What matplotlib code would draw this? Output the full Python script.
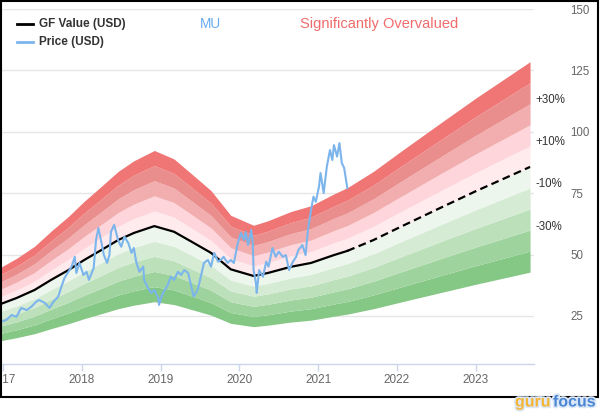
import numpy as np
import matplotlib.pyplot as plt
import matplotlib.transforms as mtransforms
import matplotlib.patheffects as pe
from matplotlib.patches import Rectangle
from matplotlib.lines import Line2D

plt.rcParams['font.family'] = ['Liberation Sans', 'DejaVu Sans']

# GF Value (USD) by decimal year
gf_years = [2016.98, 2017.17, 2017.40, 2017.61, 2017.83, 2018.03, 2018.25, 2018.46, 2018.66,
            2018.92, 2019.17, 2019.39, 2019.64, 2019.89, 2020.18, 2020.36, 2020.65, 2020.91,
            2021.20, 2021.37, 2021.70, 2022.04, 2022.55, 2023.00, 2023.69]
gf_vals = [30.0, 32.3, 35.6, 39.7, 43.7, 47.8, 51.9, 55.9, 58.8,
           61.6, 59.3, 55.3, 50.7, 44.0, 41.3, 42.5, 45.0, 46.6,
           49.8, 51.5, 55.9, 61.2, 69.0, 75.8, 85.7]
last_price_year = 2021.37

# MU price (USD)
price_years = [2016.98, 2017.04, 2017.11, 2017.17, 2017.23, 2017.30, 2017.36, 2017.42, 2017.46,
               2017.53, 2017.59, 2017.64, 2017.70, 2017.74, 2017.78, 2017.83, 2017.87, 2017.91,
               2017.93, 2017.97, 2018.02, 2018.06, 2018.09, 2018.15, 2018.18, 2018.21, 2018.25,
               2018.28, 2018.32, 2018.35, 2018.37, 2018.41, 2018.46, 2018.50, 2018.54, 2018.59,
               2018.63, 2018.66, 2018.69, 2018.73, 2018.78, 2018.79, 2018.84, 2018.88, 2018.92,
               2018.97, 2018.98, 2019.01, 2019.04, 2019.09, 2019.13, 2019.17, 2019.22, 2019.26,
               2019.30, 2019.35, 2019.39, 2019.42, 2019.47, 2019.51, 2019.55, 2019.60, 2019.64,
               2019.68, 2019.73, 2019.77, 2019.80, 2019.85, 2019.89, 2019.93, 2019.98, 2020.02,
               2020.06, 2020.08, 2020.11, 2020.15, 2020.17, 2020.18, 2020.21, 2020.22, 2020.25,
               2020.30, 2020.34, 2020.37, 2020.42, 2020.46, 2020.50, 2020.55, 2020.59, 2020.63,
               2020.68, 2020.72, 2020.75, 2020.80, 2020.84, 2020.87, 2020.91, 2020.94, 2020.97,
               2021.01, 2021.03, 2021.07, 2021.11, 2021.15, 2021.18, 2021.20, 2021.24, 2021.27,
               2021.30, 2021.33, 2021.37]
price_vals = [22.7, 23.4, 25.4, 24.7, 28.3, 27.4, 28.8, 30.8, 31.5,
              30.3, 28.3, 30.8, 32.9, 36.9, 40.5, 43.0, 45.1, 49.1,
              42.5, 46.6, 41.7, 43.0, 39.7, 44.5, 55.9, 60.8, 54.7,
              49.8, 46.6, 49.8, 59.3, 62.1, 55.9, 53.2, 57.3, 54.7,
              50.7, 52.7, 47.1, 43.0, 45.1, 39.7, 36.4, 34.4, 35.6,
              32.3, 29.5, 32.9, 34.9, 37.6, 41.0, 39.7, 43.0, 41.7,
              43.7, 42.5, 36.9, 32.9, 35.6, 41.0, 46.6, 47.8, 45.1,
              50.7, 47.1, 48.0, 49.1, 46.6, 47.8, 46.6, 54.7, 58.8,
              55.9, 59.3, 53.9, 60.0, 54.7, 43.7, 38.4, 34.4, 43.7,
              41.0, 47.1, 45.1, 52.7, 49.1, 51.2, 49.1, 49.8, 43.7,
              47.1, 49.1, 51.9, 53.9, 49.8, 60.0, 68.2, 73.6, 71.5,
              77.6, 83.2, 75.1, 85.8, 92.6, 88.5, 94.6, 89.9, 95.4,
              87.3, 85.3, 77.1]

# valuation bands as multiples of GF Value
band_edges = [0.5, 0.6, 0.7, 0.8, 0.9, 1.0, 1.1, 1.2, 1.3, 1.4, 1.5]
band_colors = ['#85c785', '#9ed39d', '#bbe0ba', '#d5ebd4', '#edf6ed',
               '#ffeaed', '#fdd5da', '#f2aeae', '#e98d8d', '#f07676']
band_labels = ['+30%', '+10%', '-10%', '-30%']
band_label_ratios = [1.3, 1.1, 0.9, 0.7]

year_ticks = [2017, 2018, 2019, 2020, 2021, 2022, 2023]
price_ticks = [25, 50, 75, 100, 125, 150]

W, H = 600, 420
fig = plt.figure(figsize=(6, 4.2), dpi=100)
ax = fig.add_axes([1.5 / W, 1 - 364 / H, 532.5 / W, 355 / H])

gy = np.array(gf_years)
gv = np.array(gf_vals)
for i in range(len(band_colors)):
    ax.fill_between(gy, gv * band_edges[i], gv * band_edges[i + 1],
                    color=band_colors[i], lw=0, zorder=1)

solid = gy <= last_price_year + 1e-9
dashed = gy >= last_price_year - 1e-9
ax.plot(gy[solid], gv[solid], color='black', lw=1.6, zorder=3)
ax.plot(gy[dashed], gv[dashed], color='black', lw=1.6, ls=(0, (3.5, 2)), zorder=3)
ax.plot(price_years, price_vals, color='#7cb5ec', lw=1.5, zorder=4)

# band labels at the right end
trans = mtransforms.blended_transform_factory(ax.transAxes, ax.transData)
for lbl, r in zip(band_labels, band_label_ratios):
    ax.annotate(lbl, xy=(1.0, gv[-1] * r), xycoords=trans, xytext=(1, 2.5),
                textcoords='offset points', va='center', ha='left',
                fontsize=8.3, color='#333333', annotation_clip=False)

ax.set_xlim(2016.98, 2023.74)
ax.set_ylim(5.45, 150)
ax.set_xticks(year_ticks)
ax.set_yticks(price_ticks)
ax.yaxis.tick_right()
ax.tick_params(axis='y', length=0, pad=26, labelsize=8.3, labelcolor='#666666')
ax.tick_params(axis='x', length=5, width=1, color='#ccd6eb', pad=2,
               labelsize=8.5, labelcolor='#666666')
ax.yaxis.grid(True, color='#e6e6e6', lw=1)
ax.set_axisbelow(True)
for s in ['left', 'right', 'top']:
    ax.spines[s].set_visible(False)
ax.spines['bottom'].set_color('#ccd6eb')
ax.spines['bottom'].set_linewidth(1)

# legend and titles
fig.add_artist(Line2D([17 / W, 33 / W], [1 - 24 / H] * 2, color='black', lw=2))
fig.add_artist(Line2D([17 / W, 33 / W], [1 - 42 / H] * 2, color='#7cb5ec', lw=2))
fig.text(39 / W, 1 - 24 / H, 'GF Value (USD)', fontsize=8.5, fontweight='bold',
         color='#333333', va='center')
fig.text(39 / W, 1 - 42 / H, 'Price (USD)', fontsize=8.5, fontweight='bold',
         color='#333333', va='center')
fig.text(200 / W, 1 - 24 / H, 'MU', fontsize=9.8, color='#66aaee', va='center')
fig.text(300 / W, 1 - 24 / H, 'Significantly Overvalued', fontsize=10.5,
         color='#f06b6b', va='center')

# outer frame and watermark
fig.patches.append(Rectangle((1 / W, 1 - 397 / H), 597 / W, 396 / H,
                             transform=fig.transFigure, fill=False,
                             ec='black', lw=1.5, zorder=1))
stroke = [pe.withStroke(linewidth=2.5, foreground='#dce8f7')]
fig.text(515 / W, 1 - 402 / H, 'guru', fontsize=11.5, fontweight='bold',
         color='#f5b431', va='center', path_effects=stroke, zorder=5)
fig.text(553 / W, 1 - 402 / H, 'focus', fontsize=11.5, fontweight='bold',
         color='#4a86d4', va='center', path_effects=stroke, zorder=5)

fig.savefig('out.png', dpi=100)
